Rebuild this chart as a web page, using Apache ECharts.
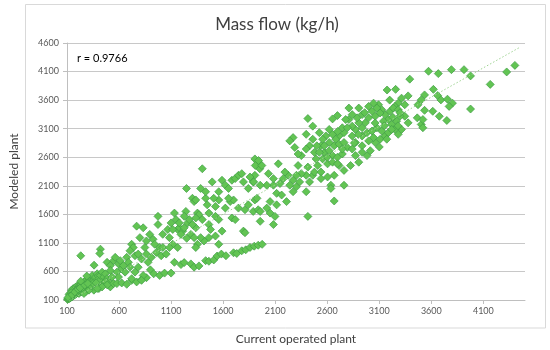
<!DOCTYPE html>
<html>
<head>
<meta charset="utf-8">
<script src="https://cdn.jsdelivr.net/npm/echarts@6/dist/echarts.min.js"></script>
<style>
html,body{margin:0;padding:0;background:#fff;}
#chart{width:550px;height:350px;}
</style>
</head>
<body>
<div id="chart"></div>
<script>
// ---- Data ----
const chartTitle = 'Mass flow (kg/h)';
const xName = 'Current operated plant';
const yName = 'Modeled plant';
const rText = 'r = 0.9766';
const xTicks = [100, 600, 1100, 1600, 2100, 2600, 3100, 3600, 4100];
const yTicks = [100, 600, 1100, 1600, 2100, 2600, 3100, 3600, 4100, 4600];

// dense group near the origin
const nearOrigin = [
[105,110],[110,125],[115,118],[120,135],[125,128],[130,150],[135,140],[140,160],[145,170],[150,155],
[155,180],[160,175],[165,195],[170,185],[175,205],[180,200],[185,220],[190,210],[200,230],[205,245],
[210,225],[215,214],[220,255],[230,240],[235,270],[240,250],[248,260],[255,285],[263,301],[270,280],
[279,243],[290,310],[300,330],[143,272],[160,300],[184,329],[200,350],[216,341],[232,380],[248,387],
[265,410],[279,444],[295,375],[311,473],[320,440],[327,416],[342,530],[358,444],[370,480],[374,502],
[390,559],[400,520],[406,473],[415,440],[421,530],[437,588],[453,502],[453,387],[469,559],[485,473],
[500,416],[516,329],[548,387],[406,301],[358,272],[311,272],[263,214],[290,520],[232,430],
[330,350],[350,390],[380,400],[430,350],[470,420],
[120,200],[140,230],[190,280],[250,320],[125,170],[110,145],[487,364],[437,329],[390,301],[232,875],
[421,990],[415,915],[360,710],[150,190],[175,240],[205,290],[225,310],[270,360],[300,390]
];

// lower branch (slope about one half)
const lowerBranch = [
[579,387],[626,398],[674,375],[721,444],[769,416],[816,456],[863,490],[901,628],[933,559],[990,530],
[1037,571],[1100,571],[1132,760],[1195,720],[1226,755],[1290,732],[1321,674],[1368,697],[1432,789],[1463,778],
[1510,801],[1542,870],[1583,904],[1627,875],[1700,927],[1731,915],[1779,962],[1817,979],[1858,1019],[1899,1042],
[1937,1059],[1975,1075]
];

// upper band, x up to about 2000
const upperBand = [
[485,760],[516,703],[548,789],[563,847],[595,732],[611,789],[626,646],[642,703],[674,847],[690,760],
[705,674],[658,588],[579,588],[595,502],[532,502],[516,617],[721,1076],[737,1019],[705,962],[753,875],
[784,904],[769,1393],[800,1192],[832,1364],[848,1019],[816,818],[863,904],[879,760],[911,847],[927,1163],
[942,1076],[958,933],[990,1019],[1005,875],[974,1565],[974,1421],[895,1249],[863,1134],[784,674],[832,530],
[816,444],[721,473],[753,588],[1068,1335],[1084,1192],[1116,1076],[1132,1622],[1147,1508],[1163,1335],[1179,1364],
[1211,1306],[1226,1364],[1258,1450],[1274,1508],[1242,1651],[1305,1881],[1321,1824],[1337,1852],[1353,1622],[1368,1594],
[1337,1364],[1305,1421],[1384,2053],[1400,2398],[1432,1881],[1447,1766],[1463,1622],[1463,1421],[1479,1335],[1495,2168],
[1526,1737],[1526,1565],[1558,1996],[1589,2197],[1621,2111],[1652,2053],[1684,2197],[1716,2226],[1747,2283],[1779,2312],
[1795,2168],[1842,2053],[1889,2168],[1905,2283],[1937,2513],[1952,2398],[1905,2570],[1858,2254],[1668,1824],[1700,1852],
[1747,1709],[1810,1680],[1842,1766],[1889,1651],[1937,1680],[1905,1852],[1684,1536],[1716,1508],[1795,1306],[1810,1278],
[1589,1306],[1558,1076],[1526,1220],[1463,1192],[1416,1134],[1384,1192],[1353,1076],[1337,1019],[1163,1019],[1053,904],
[1021,1019],[1084,1019],[1116,1335],[1195,1249],[1290,1249],[1321,1192],[1337,1536],[1400,1508],[1226,1565],[1179,1450],
[1652,1881],[1558,1852],[1510,1881],[1432,1996],[1621,1709],[1558,1508],[1248,2053],[1020,1250],[1100,1450],[1250,1180]
];

// main cluster and high end, x above about 1900
const mainCluster = [
[4403,4208],[4324,4093],[4166,3875],[3977,4024],[3914,4133],[3793,4133],[3667,4064],[3573,4105],[3393,3967],[3977,3444],
[3257,3788],[3175,3777],[3620,3788],[3535,3691],[3661,3679],[3692,3604],[3755,3616],[3803,3547],[3771,3490],[3677,3317],
[3749,3243],[3614,3404],[3535,3421],[3472,3519],[3503,3604],[3377,3674],[3314,3634],[3282,3547],[3250,3490],[3345,3519],
[3465,3289],[3503,3174],[3519,3116],[3519,3260],[3377,3202],[3314,3087],[3282,3001],[3345,3317],[3093,3519],[3124,3432],
[3156,3346],[3187,3260],[3219,3174],[3030,3404],[2998,3289],[3061,3317],[2966,3202],[2935,3116],[2903,3202],[2871,3087],
[2840,3144],[2808,3260],[2808,3461],[2903,3461],[2698,3329],[2651,3271],[2761,3030],[2714,2972],[2682,2915],[2651,3001],
[2619,3087],[2587,2972],[2556,2915],[2540,2800],[2572,2685],[2619,2714],[2651,2628],[2698,2599],[2745,2657],[2793,2771],
[2840,2743],[2871,2858],[2935,2800],[2982,2628],[3014,2714],[3061,2858],[3108,2915],[3156,2972],[3187,3030],[3250,3087],
[3172,2915],[2824,2455],[2903,2513],[2761,2369],[2667,2283],[2714,2455],[2461,3144],[2414,3277],[2461,2915],[2524,3030],
[2430,2800],[2477,2685],[2556,2570],[2603,2484],[2509,2455],[2398,2743],[2351,2628],[2272,2944],[2240,2886],[2398,3001],
[2288,2771],[2320,2656],[2414,2427],[2461,2283],[2430,2168],[2398,2283],[2477,2340],[2320,2455],[2351,2312],[2304,2283],
[2272,2196],[2225,2283],[2240,2110],[2304,2082],[2335,2168],[2272,1996],[2398,1996],[2540,2340],[2540,2225],[2603,2254],
[2635,2110],[2761,2110],[2635,2053],[2667,1834],[2414,1564],[2193,2340],[2146,2139],[2083,2110],[2019,2110],[1956,2110],
[2114,1967],[2162,1938],[2051,1823],[2114,1766],[2209,1823],[2019,1709],[1956,1651],[2051,1622],[2098,1564],[1956,1478],
[2083,1421],[1925,1880],[1940,2542],[1909,2455],[1972,2455],[1893,2168],[2035,2312],[2130,2484],[2083,2225],[2177,2225],
[2998,3490],[3045,3547],[3077,3461],[3108,3375],[3140,3231],[3203,3404],[3235,3461],[3282,3432],[3298,3317],[3266,3231],
[3219,3087],[2935,3346],[2887,3289],[2840,3346],[2777,3260],[2745,3116],[2793,3116],[2840,2972],[2935,2972],[2982,3030],
[3030,3058],[3077,3116],[3124,3058],[2998,2886],[3045,2944],[2667,2800],[2714,2829],[2761,2858],[2619,2858],[2524,2685],
[2572,2800],[2493,2570],[2745,2743],[2651,2513],[2698,2484],[2935,2685],[2871,2628],[3200,3600],[3300,3380],[3150,3150],
[3060,3200],[2960,3380],[2900,3000],[3100,2780],[3230,3300],[3280,3150],[2860,2850],[2700,3050],[2600,2600],[2500,2800]
];

// dotted linear trend line end points
const trendX = [120, 4450];
const trendY = [85, 4524];

// ---- Chart ----
const allPoints = nearOrigin.concat(lowerBranch, upperBand, mainCluster);
const trendData = trendX.map((x, i) => [x, trendY[i]]);
const FONT = 'Lato, "Open Sans", "Liberation Sans", sans-serif';

const chart = echarts.init(document.getElementById('chart'), null, {renderer: 'canvas'});
chart.setOption({
  animation: false,
  backgroundColor: '#ffffff',
  title: {
    text: chartTitle,
    left: 272, top: 11, textAlign: 'center',
    textStyle: {fontFamily: FONT, fontSize: 17, fontWeight: 'normal', color: '#404040'}
  },
  graphic: [
    {type: 'rect', shape: {x: 25.5, y: 4.5, width: 520, height: 323.5},
     style: {fill: 'none', stroke: '#d9d9d9', lineWidth: 1}, z: -1},
    {type: 'text', left: 77, top: 53,
     style: {text: rText, font: '11px ' + FONT, fill: '#000000'}}
  ],
  grid: {left: 61, right: 25, top: 43, bottom: 47, containLabel: false},
  xAxis: {
    type: 'value', min: 100, max: 4500, interval: 500,
    name: xName, nameLocation: 'middle', nameGap: 33,
    nameTextStyle: {fontFamily: FONT, fontSize: 12, color: '#404040'},
    axisLine: {show: true, lineStyle: {color: '#bfbfbf', width: 1}},
    axisTick: {show: true, length: 4, lineStyle: {color: '#bfbfbf'}},
    axisLabel: {fontFamily: FONT, fontSize: 9, color: '#595959', margin: 7, showMaxLabel: false,
      formatter: v => String(v)},
    splitLine: {show: false}
  },
  yAxis: {
    type: 'value', min: 100, max: 4600, interval: 500,
    name: yName, nameLocation: 'middle', nameGap: 47, nameRotate: 90,
    nameTextStyle: {fontFamily: FONT, fontSize: 12, color: '#404040'},
    axisLine: {show: true, lineStyle: {color: '#bfbfbf', width: 1}},
    axisTick: {show: true, length: 4, lineStyle: {color: '#bfbfbf'}},
    axisLabel: {fontFamily: FONT, fontSize: 9, color: '#595959', margin: 8,
      formatter: v => String(v)},
    splitLine: {show: true, lineStyle: {color: '#c8c8c8', width: 1}}
  },
  series: [
    {
      type: 'scatter', data: allPoints, symbol: 'diamond', symbolSize: 8,
      itemStyle: {color: '#62c453', borderColor: '#3f9e45', borderWidth: 0.7, opacity: 1},
      z: 2
    },
    {
      type: 'line', data: trendData, symbol: 'none', silent: true,
      lineStyle: {color: '#9fd393', width: 1, type: [1.5, 2]},
      z: 3
    }
  ]
});
</script>
</body>
</html>
